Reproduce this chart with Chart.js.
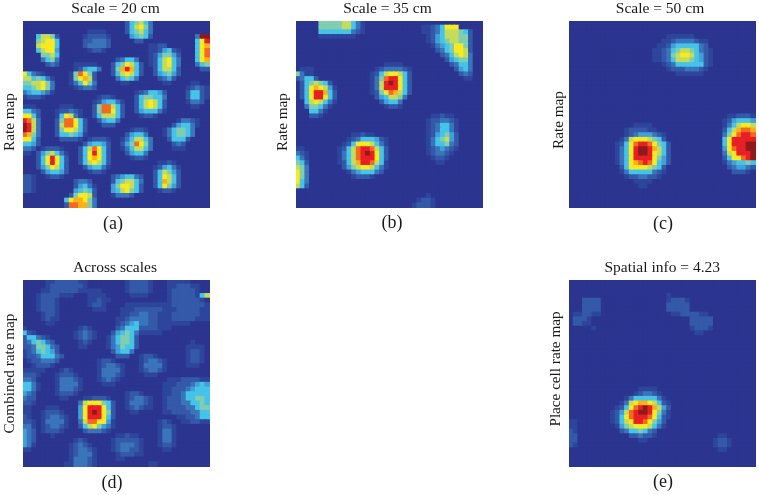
<!DOCTYPE html>
<html>
<head>
<meta charset="utf-8">
<title>Rate maps</title>
<script src="https://cdn.jsdelivr.net/npm/chart.js@4"></script>
<style>
    html, body { margin: 0; padding: 0; background: #fff; width: 759px; height: 495px; overflow: hidden; }
    #page { position: relative; width: 759px; height: 495px; overflow: hidden; }
    #page canvas { position: absolute; filter: blur(0.4px); }
</style>
</head>
<body>
<div id="page"></div>
<script>
const panelTitles = ["Scale = 20 cm", "Scale = 35 cm", "Scale = 50 cm", "Across scales", "Spatial info = 4.23"];
const panelCaptions = ["(a)", "(b)", "(c)", "(d)", "(e)"];
const panelLabels = ["Rate map", "Rate map", "Rate map", "Combined rate map", "Place cell rate map"];

// colour levels of the map, low to high (index = value of a cell)
const levelColors = ["#2b3590", "#2e459c", "#3459a9", "#3a74bb", "#3fa0da", "#45c3e8", "#80cdb0",
    "#c4dc5c", "#f8ea20", "#fbb01a", "#f26a21", "#e81f25", "#8f1a1c"];

// every map is 40 x 40 bins, anything not listed stays at level 0
// one run = [row, first column, levels]
const rateA = [
    [0,22,"256753"],[1,22,"257863"],[2,22,"256753"],[3,23,"45652"],[4,24,"22"],
    [3,3,"57762"],[4,3,"67885"],[5,3,"78885"],[6,3,"57884"],[7,4,"6675"],[8,4,"3563"],[9,5,"232"],
    [2,14,"1111"],[3,13,"122221"],[4,13,"223332"],[5,13,"233332"],[6,14,"1221"],
    [3,37,"3cc"],[4,37,"58b"],[5,37,"589"],[6,37,"58a"],[7,37,"58a"],[8,37,"589"],[9,37,"356"],[10,38,"22"],
    [5,27,"1122"],[6,27,"1124521"],[7,27,"1246642"],[8,27,"1257853"],[9,27,"1257853"],[10,28,"257752"],[11,28,"245642"],[12,29,"2342"],[13,30,"11"],
    [8,20,"23553"],[9,19,"2568752"],[10,19,"269b952"],[11,19,"2578752"],[12,20,"35653"],[13,21,"11"],
    [9,11,"11111"],[10,11,"124553"],[11,10,"16a862"],[12,10,"168972"],[13,10,"135863"],[14,11,"12332"],
    [11,0,"85321"],[12,0,"7756531"],[13,0,"6677863"],[14,0,"5567863"],[15,0,"3455431"],[16,0,"12221"],
    [13,36,"11"],[14,35,"12321"],[15,35,"25521"],[16,35,"25521"],[17,35,"1332"],[18,36,"11"],
    [15,24,"1235542"],[16,24,"2566553"],[17,24,"2578752"],[18,24,"2578752"],[19,24,"2455531"],[20,25,"1221"],
    [16,16,"1221"],[17,15,"1245531"],[18,15,"26aa752"],[19,15,"26aa852"],[20,15,"2577752"],[21,16,"24553"],[22,17,"222"],
    [18,8,"111"],[19,7,"122321"],[20,7,"158731"],[21,7,"26aa852"],[22,7,"27aa852"],[23,7,"2688752"],[24,7,"2556541"],[25,8,"22221"],
    [18,0,"111"],[19,0,"5532"],[20,0,"8852"],[21,0,"ba73"],[22,0,"cb73"],[23,0,"cb73"],[24,0,"a963"],[25,0,"8852"],[26,0,"5542"],[27,0,"332"],[28,0,"11"],
    [21,33,"13321"],[22,32,"245531"],[23,30,"1356653"],[24,30,"1356653"],[25,31,"25552"],[26,32,"232"],[27,32,"111"],
    [23,23,"1221"],[24,22,"24553"],[25,21,"1357753"],[26,21,"246a863"],[27,21,"1357753"],[28,22,"24553"],[29,23,"1221"],
    [25,14,"12221"],[26,13,"245542"],[27,12,"257a852"],[28,12,"258b852"],[29,12,"2589852"],[30,12,"2578752"],[31,13,"245531"],[32,14,"1221"],
    [27,4,"12221"],[28,3,"2467531"],[29,3,"258b852"],[30,3,"258b852"],[31,3,"2468752"],[32,4,"245542"],[33,5,"1221"],
    [30,29,"1121"],[31,28,"124531"],[32,28,"257642"],[33,28,"258752"],[34,28,"259752"],[35,28,"258642"],[36,29,"1221"],
    [33,19,"2345532"],[34,19,"2567753"],[35,19,"4688752"],[36,19,"4578652"],[37,19,"13332"],
    [33,0,"221"],[34,0,"221"],[35,0,"221"],[36,0,"221"],
    [34,11,"2332"],[35,11,"24531"],[36,11,"45652"],[37,10,"268872"],[38,9,"5899863"],[39,9,"2aa9963"]
];
const rateB = [
    [0,5,"6666677531"],[1,5,"6666677531"],[2,5,"5555555321"],[3,5,"11111111"],
    [1,27,"11235888"],[2,27,"11235777652"],[3,28,"1245777662"],[4,28,"1245677662"],[5,29,"134568862"],[6,30,"23568872"],[7,31,"2357873"],[8,32,"245663"],[9,33,"23553"],[10,34,"2453"],[11,35,"232"],[12,36,"11"],
    [10,1,"111"],[11,0,"6311"],[12,0,"23552"],[13,1,"2567652"],[14,1,"25898741"],[15,1,"258bb952"],[16,1,"258bb852"],[17,2,"5787531"],[18,2,"366531"],[19,3,"5531"],[20,3,"221"],
    [9,19,"1111"],[10,17,"12333321"],[11,16,"125788752"],[12,16,"136abb852"],[13,16,"137bcb852"],[14,16,"137bbb852"],[15,16,"1268a9752"],[16,17,"2457763"],[17,18,"24553"],[18,19,"1221"],
    [20,29,"11211"],[21,28,"1223321"],[22,28,"1235531"],[23,28,"1235531"],[24,28,"1245642"],[25,28,"1356742"],[26,28,"1355632"],[27,28,"1234321"],[28,28,"123321"],[29,29,"1221"],[30,30,"11"],
    [24,12,"11211"],[25,11,"123555421"],[26,10,"1258887531"],[27,9,"1257abba752"],[28,9,"1357abcb852"],[29,9,"1357abbb852"],[30,9,"12579bba751"],[31,10,"2467887531"],[32,11,"13455532"],[33,12,"12221"],
    [27,0,"11"],[28,0,"321"],[29,0,"531"],[30,0,"652"],[31,0,"763"],[32,0,"863"],[33,0,"863"],[34,0,"853"],[35,0,"752"],
    [37,28,"1"],[38,26,"1221"],[39,25,"12221"]
];
const rateC = [
    [3,21,"111111"],[4,20,"1123333211"],[5,19,"11245555532"],[6,18,"1123567765321"],[7,18,"1123678875421"],[8,18,"1123577765421"],[9,20,"12355555521"],[10,21,"122233321"],[11,23,"111111"],
    [22,14,"1111"],[23,12,"1222211"],[24,12,"123444321"],[25,11,"1378887652"],[26,10,"1258abba8652"],[27,10,"1358bccb9752"],[28,10,"1358bccb8752"],[29,10,"1358bbbb8642"],[30,10,"13589aba8542"],[31,11,"2588887652"],[32,11,"1355555321"],[33,12,"12233221"],[34,14,"1111"],[35,15,"11"],
    [20,34,"112221"],[21,33,"1245554"],[22,33,"1357887"],[23,33,"2579aa9"],[24,33,"368abba"],[25,33,"58bbbbb"],[26,33,"58bbbcc"],[27,33,"48abbcc"],[28,33,"378bbbc"],[29,33,"2588abc"],[30,33,"1345565"],[31,34,"234432"],[32,35,"2221"]
];
const rateD = [
    [0,5,"112222211"],[1,5,"122222221"],[2,4,"1122222211"],[3,3,"12222111"],[4,3,"12221"],[5,3,"12221"],[6,3,"12221"],[7,4,"1221"],[8,4,"1211"],[9,5,"11"],
    [0,22,"122221"],[1,22,"122221"],[2,22,"122221"],[3,23,"1111"],
    [2,14,"111"],[3,14,"1111"],[4,14,"11211"],[5,14,"1221"],[6,15,"111"],
    [0,31,"11111"],[1,31,"1122211"],[2,31,"1222221"],[3,31,"1222221"],[3,38,"57"],[4,31,"12222221"],[5,22,"111111111"],[5,31,"122222221"],
    [6,21,"1112222221112222211"],[7,21,"1122332211122222211"],[8,20,"11233332211122222111"],[9,20,"1123333221111111"],[10,20,"112222222111"],[11,23,"1111111"],
    [9,21,"2345"],[10,20,"23555"],[11,19,"245653"],[12,18,"1356652"],[13,18,"1356652"],[14,18,"1346552"],[15,19,"24553"],[16,20,"222"],
    [10,0,"1"],[11,0,"521"],[12,0,"255321"],[13,0,"2356532"],[14,0,"22366532"],[15,0,"12356542"],[16,0,"122355532"],[17,1,"1223332"],[18,2,"12221"],[19,3,"11"],
    [10,12,"121"],[11,11,"12321"],[12,11,"12321"],[13,12,"121"],[14,12,"11"],
    [17,16,"1221"],[18,16,"123321"],[19,16,"133331"],[20,16,"133321"],[21,16,"12321"],[22,17,"111"],
    [16,25,"1221"],[17,25,"123321"],[18,25,"133331"],[19,25,"123321"],[20,26,"111"],
    [13,36,"1"],[14,35,"1111"],[15,35,"1221"],[16,35,"1221"],[17,35,"1221"],[18,35,"111"],
    [19,0,"111"],[20,0,"2221"],[21,0,"332"],[22,0,"5531"],[23,0,"5531"],[24,0,"432"],[25,0,"322"],[26,0,"221"],[27,0,"11"],
    [19,8,"121"],[20,7,"12221"],[21,7,"133321"],[22,7,"133331"],[23,7,"133321"],[24,7,"12221"],[25,8,"11"],
    [25,13,"112221"],[26,12,"37888652"],[27,12,"48bbb852"],[28,12,"48bcb862"],[29,12,"48bbb852"],[30,12,"37aa8841"],[31,12,"25786431"],[32,13,"233321"],
    [24,22,"1221"],[25,22,"123321"],[26,22,"133321"],[27,22,"123211"],[28,23,"11"],
    [21,31,"111222211"],[22,29,"01112223454"],[23,29,"01122234555"],[24,29,"01122355555"],[25,29,"01222355665"],[26,29,"01222335565"],[27,29,"01222233566"],[28,29,"01122223355"],[29,33,"1122355"],[30,34,"112211"],
    [27,5,"111"],[28,4,"12221"],[29,4,"123321"],[30,4,"133331"],[31,4,"123321"],[32,4,"12221"],[33,6,"1"],
    [28,0,"11"],[29,0,"21"],[30,0,"221"],[31,0,"331"],[32,0,"432"],[33,0,"432"],[34,0,"432"],[35,0,"431"],[36,0,"11"],
    [30,29,"121"],[31,29,"1221"],[32,29,"1331"],[33,29,"1331"],[34,29,"1331"],[35,29,"1221"],[36,30,"11"],
    [33,20,"11211"],[34,19,"1222221"],[35,19,"1233321"],[36,19,"1233221"],[37,20,"122211"],[38,20,"11"],
    [34,11,"121"],[35,10,"12321"],[36,10,"123321"],[37,10,"123331"],[38,10,"133321"],[39,9,"1133321"],[39,27,"11"]
];
const rateE = [
    [4,3,"2222"],[5,3,"2222"],[6,3,"2222"],[7,1,"112211"],[8,1,"2221"],[9,1,"2211"],[10,5,"1"],
    [3,21,"1"],[4,21,"12221"],[5,21,"22222"],[6,21,"22222"],[7,22,"11222"],[7,26,"2211"],[8,26,"22222"],[9,26,"22222"],[10,26,"12221"],[11,27,"11"],
    [23,15,"1111"],[24,14,"123321"],[25,12,"135555531"],[26,11,"13789987521"],[27,10,"1258abcb9742"],[28,9,"1247abccb8631"],[29,9,"1258abbba8521"],[30,9,"12578bba8642"],[31,10,"14678887531"],[32,11,"23556532"],[33,13,"223221"],[34,15,"11"],
    [30,0,"11"],[31,0,"11"],[32,0,"21"],[33,0,"22"],[34,0,"22"],[35,0,"21"],
    [33,32,"11"],[34,31,"1221"],[35,31,"1221"],[36,32,"11"]
];
const panelRuns = [rateA, rateB, rateC, rateD, rateE];

const gridSize = 40;
const cellRadius = 4.02;

// canvas placement and text anchors, same order as the panels
// titlePad moves the centred title: it eats into the 23px left of the map
const panelLayout = [
    { left: 0,   top: 0,   titlePad: 21,   labelX: 10, labelY: 122,   captionX: 113, captionY: 224 },
    { left: 273, top: 0,   titlePad: 19,   labelX: 10, labelY: 122,   captionX: 119, captionY: 223 },
    { left: 546, top: 0,   titlePad: 18,   labelX: 13, labelY: 120,   captionX: 117, captionY: 224 },
    { left: 0,   top: 259, titlePad: 20,   labelX: 10, labelY: 114.5, captionX: 112, captionY: 224 },
    { left: 546, top: 259, titlePad: 22.5, labelX: 10, labelY: 110,   captionX: 117, captionY: 223 }
];

// the y label and the (a)-(e) caption sit off centre in the original, so they get their own anchors
const sideText = {
    id: 'sideText',
    afterDraw(chart, args, opts) {
        const ctx = chart.ctx;
        ctx.save();
        ctx.fillStyle = '#1a1a1a';
        ctx.textAlign = 'center';
        ctx.textBaseline = 'middle';
        ctx.font = '18px "Liberation Serif"';
        ctx.fillText(opts.caption, opts.captionX, opts.captionY);
        ctx.translate(opts.labelX, opts.labelY);
        ctx.rotate(-Math.PI / 2);
        ctx.font = '15.2px "Liberation Serif"';
        ctx.fillText(opts.label, 0, 0);
        ctx.restore();
    }
};

function buildCells(runs) {
    const grid = [];
    for (let r = 0; r < gridSize; r++) {
        grid.push(new Array(gridSize).fill(0));
    }
    runs.forEach(([row, col, levels]) => {
        for (let i = 0; i < levels.length; i++) {
            if (col + i < gridSize) grid[row][col + i] = parseInt(levels[i], 16);
        }
    });
    const cells = [];
    grid.forEach((line, r) => line.forEach((v, c) => cells.push({ x: c, y: r, v: v })));
    return cells;
}

function drawPanel(i) {
    const box = panelLayout[i];
    const canvas = document.createElement('canvas');
    canvas.width = 210;
    canvas.height = 236;
    canvas.style.left = box.left + 'px';
    canvas.style.top = box.top + 'px';
    document.getElementById('page').appendChild(canvas);

    const cells = buildCells(panelRuns[i]);
    new Chart(canvas.getContext('2d'), {
        type: 'scatter',
        data: {
            datasets: [{
                data: cells,
                pointStyle: 'rect',
                pointRadius: cellRadius,
                pointBorderWidth: 0,
                pointBackgroundColor: cells.map(c => levelColors[c.v])
            }]
        },
        options: {
            responsive: false,
            animation: false,
            events: [],
            layout: { autoPadding: false, padding: { left: box.titlePad } },
            plugins: {
                legend: { display: false },
                tooltip: { enabled: false },
                title: {
                    display: true,
                    text: panelTitles[i],
                    color: '#1a1a1a',
                    font: { family: 'Liberation Serif', size: 15.5, weight: 'normal', lineHeight: 1.2 },
                    padding: { top: 0, bottom: 2.4 }
                },
                sideText: {
                    label: panelLabels[i],
                    labelX: box.labelX,
                    labelY: box.labelY,
                    caption: panelCaptions[i],
                    captionX: box.captionX,
                    captionY: box.captionY
                }
            },
            scales: {
                x: {
                    type: 'linear',
                    min: -0.4,
                    max: gridSize - 0.4,
                    grid: { display: false },
                    border: { display: false },
                    ticks: { display: false },
                    afterFit: scale => { scale.height = 28; }
                },
                y: {
                    type: 'linear',
                    reverse: true,
                    min: -0.4,
                    max: gridSize - 0.4,
                    grid: { display: false },
                    border: { display: false },
                    ticks: { display: false },
                    afterFit: scale => { scale.width = 23 - box.titlePad; }
                }
            }
        },
        plugins: [sideText]
    });
}

panelTitles.forEach((t, i) => drawPanel(i));
</script>
</body>
</html>
